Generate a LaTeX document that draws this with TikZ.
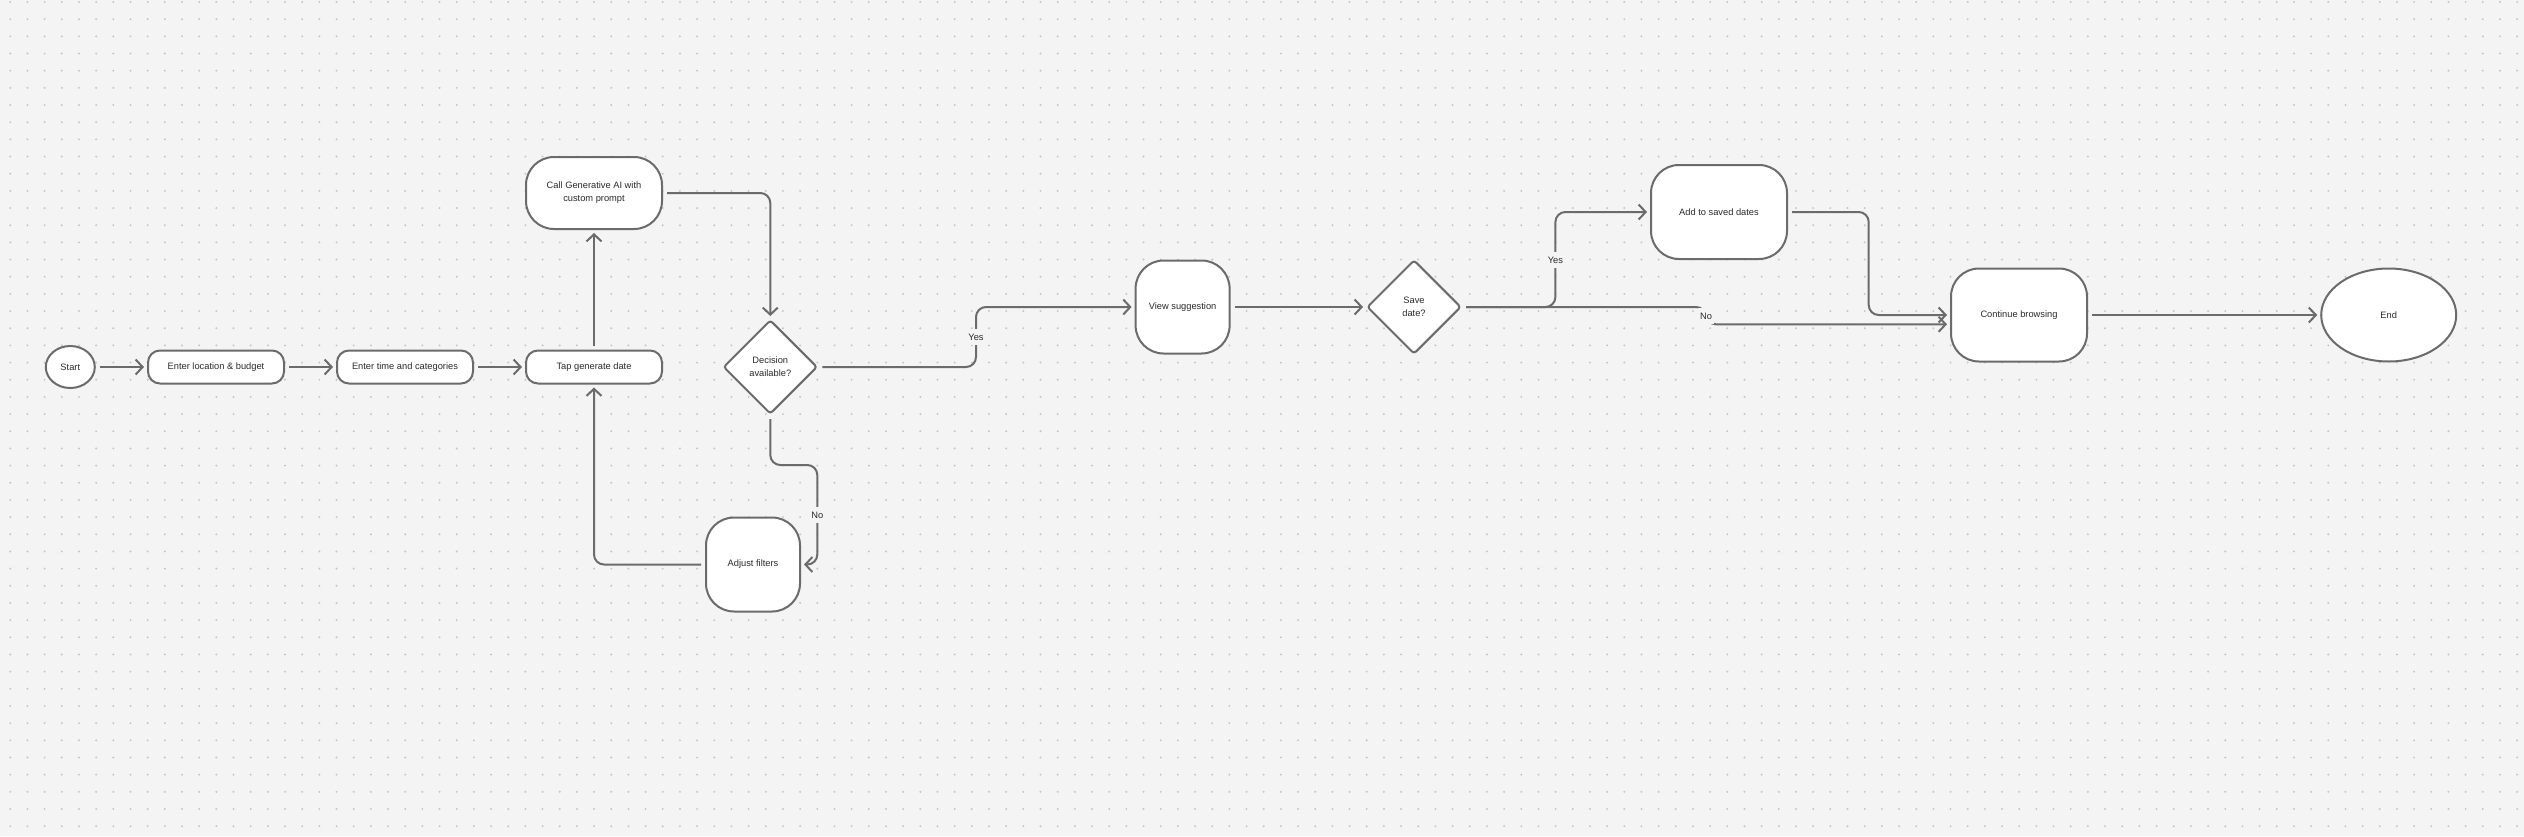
\documentclass[tikz,border=0pt]{standalone}
\usepackage{fontspec}
\setmainfont{Liberation Sans}
\usetikzlibrary{shapes.geometric,arrows.meta,calc}
\definecolor{bgc}{HTML}{F4F4F4}
\definecolor{dotc}{HTML}{C6C6C6}
\definecolor{linec}{HTML}{6B6B6B}
\definecolor{txtc}{HTML}{2A2A2A}
\begin{document}
\begin{tikzpicture}[x=1pt,y=-1pt,
  base/.style={draw=linec,fill=white,line width=2pt,inner sep=0pt,align=center,text=txtc,font=\fontsize{9.3}{13}\selectfont},
  pill/.style={base,rectangle,rounded corners=12pt,minimum width=136pt,minimum height=33pt},
  bigbox/.style={base,rectangle,rounded corners=28pt},
  oval/.style={base,ellipse},
  choice/.style={base,diamond,rounded corners=3pt,minimum width=94pt,minimum height=94pt},
  conn/.style={draw=linec,line width=2pt,rounded corners=10pt,shorten <=4pt,shorten >=3pt,-{Straight Barb[length=7pt,width=15pt]}},
  lbl/.style={fill=bgc,inner xsep=2pt,inner ysep=5pt,text=txtc,font=\fontsize{9.3}{13}\selectfont}]
\fill[bgc] (0,0) rectangle (2524,836);
\useasboundingbox (0,0) rectangle (2524,836);
\foreach \i in {0,...,146}{
  \fill[dotc] \foreach \j in {0,...,48}{(10.3+17.17*\i,2+17.17*\j) circle[radius=1.1pt]};
}

\node[oval,minimum width=49pt,minimum height=42pt] (start) at (70.3,367) {Start};
\node[pill] (loc) at (216,367) {Enter location \& budget};
\node[pill] (time) at (405,367) {Enter time and categories};
\node[pill] (tap) at (594,367) {Tap generate date};
\node[bigbox,minimum width=136pt,minimum height=72pt] (call) at (594,193) {Call Generative AI with\\custom prompt};
\node[choice] (dec) at (770.3,367) {Decision\\available?};
\node[bigbox,minimum width=94pt,minimum height=94pt] (adj) at (753,564.5) {Adjust filters};
\node[bigbox,minimum width=94pt,minimum height=93pt] (view) at (1182.6,307) {View suggestion};
\node[choice] (save) at (1414,307) {Save\\date?};
\node[bigbox,minimum width=136pt,minimum height=94pt] (add) at (1719,212) {Add to saved dates};
\node[bigbox,minimum width=136pt,minimum height=93pt] (cont) at (2019,315) {Continue browsing};
\node[oval,minimum width=135pt,minimum height=93pt] (endn) at (2388.7,315) {End};

\draw[conn] (start) -- (loc);
\draw[conn] (loc) -- (time);
\draw[conn] (time) -- (tap);
\draw[conn] (tap) -- (call);
\draw[conn] (call.east) -| (dec.north);
\draw[conn] (dec.east) -- (976,367) |- (view.west);
\draw[conn] (dec.south) -- (770.3,465) -| (817.3,564.5) -- (adj.east);
\draw[conn] (adj.west) -| (tap.south);
\draw[conn] (view) -- (save);
\draw[conn] (save.east) -- (1555.4,307) |- (add.west);
\draw[conn] (save.east) -- (1706,307) -- (1706,324.3) -- ($(cont.west)+(0,9.3)$);
\draw[conn] (add.east) -- (1868.7,212) |- (cont.west);
\draw[conn] (cont) -- (endn);

\node[lbl] (y1) at (976,337) {Yes};
\node[lbl] (n1) at (817.3,515) {No};
\node[lbl] (y2) at (1555.4,260) {Yes};
\node[lbl] (n2) at (1706,316) {No};
\end{tikzpicture}
\end{document}
